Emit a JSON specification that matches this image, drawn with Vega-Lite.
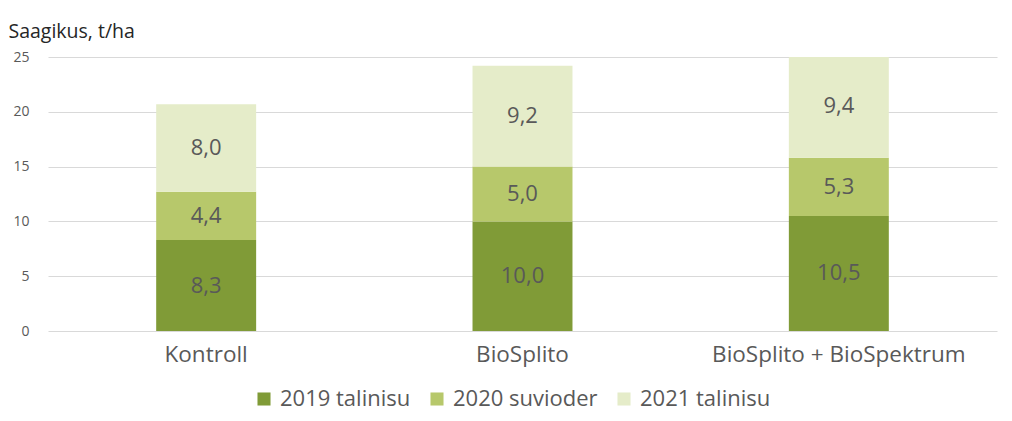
{
  "$schema": "https://vega.github.io/schema/vega-lite/v6.json",
  "autosize": {"type": "none"},
  "width": 949,
  "height": 274,
  "padding": {"left": 48, "top": 57, "right": 15, "bottom": 90},
  "background": "white",
  "config": {
    "view": {"stroke": null},
    "font": "Open Sans",
    "locale": {"number": {"decimal": ",", "thousands": " ", "grouping": [3], "currency": ["", " €"]}}
  },
  "data": {
    "values": [
      {"cat": "Kontroll", "series": "2019 talinisu", "value": 8.3},
      {"cat": "Kontroll", "series": "2020 suvioder", "value": 4.4},
      {"cat": "Kontroll", "series": "2021 talinisu", "value": 8.0},
      {"cat": "BioSplito", "series": "2019 talinisu", "value": 10.0},
      {"cat": "BioSplito", "series": "2020 suvioder", "value": 5.0},
      {"cat": "BioSplito", "series": "2021 talinisu", "value": 9.2},
      {"cat": "BioSplito + BioSpektrum", "series": "2019 talinisu", "value": 10.5},
      {"cat": "BioSplito + BioSpektrum", "series": "2020 suvioder", "value": 5.3},
      {"cat": "BioSplito + BioSpektrum", "series": "2021 talinisu", "value": 9.4}
    ]
  },
  "transform": [
    {"stack": "value", "groupby": ["cat"], "sort": [{"field": "series"}], "as": ["v0", "v1"]},
    {"calculate": "(datum.v0 + datum.v1) / 2", "as": "mid"}
  ],
  "encoding": {
    "x": {
      "field": "cat",
      "type": "nominal",
      "sort": ["Kontroll", "BioSplito", "BioSplito + BioSpektrum"],
      "scale": {"paddingInner": 0.684, "paddingOuter": 0.342},
      "axis": {
        "title": null,
        "labelAngle": 0,
        "domain": false,
        "ticks": false,
        "labelPadding": 12,
        "labelFontSize": 22.5,
        "labelLimit": 500,
        "labelColor": "#595959"
      }
    }
  },
  "layer": [
    {
      "mark": {"type": "bar", "clip": true},
      "encoding": {
        "y": {
          "field": "v0",
          "type": "quantitative",
          "scale": {"domain": [0, 25], "nice": false},
          "axis": {
            "values": [0, 5, 10, 15, 20, 25],
            "title": "Saagikus, t/ha",
            "titleAngle": 0,
            "titleAlign": "left",
            "titleBaseline": "alphabetic",
            "titleX": -40,
            "titleY": -20,
            "titleFontSize": 19.5,
            "titleFontWeight": "normal",
            "titleColor": "#262626",
            "domain": false,
            "ticks": false,
            "labelPadding": 19,
            "labelFontSize": 14,
            "labelColor": "#595959",
            "gridColor": "#d9d9d9",
            "gridWidth": 1
          }
        },
        "y2": {"field": "v1"},
        "color": {
          "field": "series",
          "type": "nominal",
          "scale": {
            "domain": ["2019 talinisu", "2020 suvioder", "2021 talinisu"],
            "range": ["#809b37", "#b7c86b", "#e5ecc9"]
          },
          "legend": {
            "title": null,
            "orient": "none",
            "direction": "horizontal",
            "legendX": 205,
            "legendY": 331,
            "symbolType": "square",
            "symbolSize": 170,
            "symbolStrokeWidth": 0,
            "labelFontSize": 22,
            "labelColor": "#595959",
            "labelOffset": 5,
            "columnPadding": 15
          }
        }
      }
    },
    {
      "mark": {"type": "text", "fontSize": 22, "color": "#595959", "baseline": "middle"},
      "encoding": {
        "y": {"field": "mid", "type": "quantitative"},
        "text": {"field": "value", "type": "quantitative", "format": ".1f"}
      }
    }
  ]
}
